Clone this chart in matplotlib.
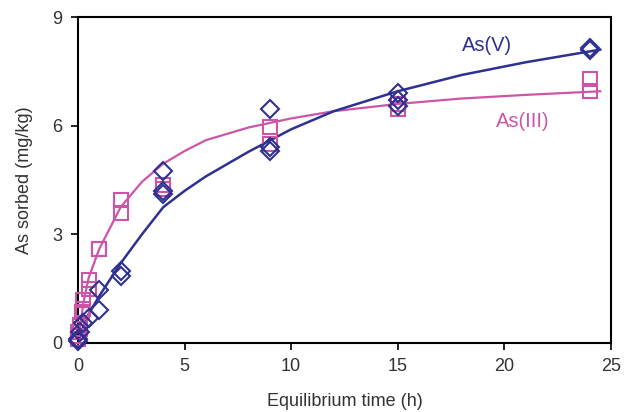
import matplotlib.pyplot as plt

plt.rcParams['font.family'] = ['Liberation Sans', 'DejaVu Sans']

# measured points
v_t = [0, 0, 0.083, 0.25, 0.5, 1, 1, 2, 2, 4, 4, 4, 9, 9, 9, 15, 15, 15, 24, 24]
v_q = [0.05, 0.1, 0.3, 0.55, 0.7, 1.45, 0.9, 2.0, 1.85, 4.75, 4.2, 4.1,
       6.45, 5.4, 5.3, 6.9, 6.7, 6.55, 8.15, 8.1]

iii_t = [0, 0, 0, 0.083, 0.083, 0.167, 0.25, 0.25, 0.5, 0.5, 1, 1, 2, 2,
         4, 4, 9, 9, 15, 15, 24, 24]
iii_q = [0.1, 0.2, 0.3, 0.4, 0.5, 0.85, 1.2, 0.95, 1.75, 1.5, 2.6, 2.6,
         3.95, 3.6, 4.35, 4.25, 5.95, 5.5, 6.6, 6.45, 7.3, 6.95]

# fitted curves
fit_t = [0, 0.25, 0.5, 1, 2, 3, 4, 5, 6, 8, 10, 12, 15, 18, 21, 24.5]
fit_v = [0, 0.45, 0.8, 1.3, 2.2, 3.0, 3.75, 4.2, 4.6, 5.28, 5.9, 6.4,
         6.95, 7.4, 7.75, 8.1]
fit_iii = [0, 1.1, 1.8, 2.6, 3.75, 4.45, 4.95, 5.3, 5.6, 5.95, 6.2, 6.4,
           6.6, 6.75, 6.85, 6.95]

blue = '#2e3192'
pink = '#cc55a8'

fig = plt.figure(figsize=(6.24, 4.12), dpi=100)
ax = fig.add_axes([0.125, 0.1675, 0.854, 0.7912])

ax.plot(fit_t, fit_iii, color=pink, lw=1.6, zorder=2)
ax.plot(fit_t, fit_v, color=blue, lw=1.8, zorder=2)
ax.plot(iii_t, iii_q, ls='none', marker='s', ms=9.5, mfc='none',
        mec=pink, mew=1.5, zorder=3, clip_on=False)
ax.plot(v_t, v_q, ls='none', marker='D', ms=9, mfc='none',
        mec=blue, mew=1.5, zorder=3, clip_on=False)

ax.text(19.2, 8.2, 'As(V)', color=blue, fontsize=14.5, ha='center', va='center')
ax.text(20.85, 6.12, 'As(III)', color=pink, fontsize=14.5, ha='center', va='center')

ax.set_xlim(0, 25)
ax.set_ylim(0, 9)
ax.set_xticks([0, 5, 10, 15, 20, 25])
ax.set_yticks([0, 3, 6, 9])
ax.tick_params(direction='out', length=5, width=1.2, labelsize=13,
               labelcolor='#333333', pad=6)
for s in ax.spines.values():
    s.set_linewidth(1.5)

ax.set_xlabel('Equilibrium time (h)', fontsize=13, color='#333333', labelpad=13)
ax.set_ylabel('As sorbed (mg/kg)', fontsize=13, color='#333333', labelpad=14)

fig.savefig('out.png', dpi=100)
